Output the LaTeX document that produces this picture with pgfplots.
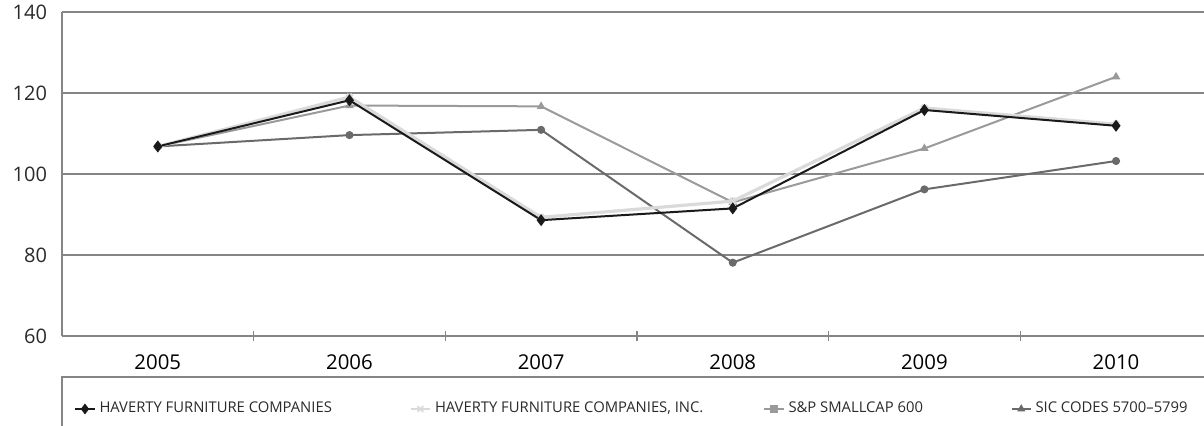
\documentclass[border=0pt]{standalone}
\usepackage{fontspec}
\setmainfont{Open Sans}
\usepackage{pgfplots}
\pgfplotsset{compat=1.18}
\usetikzlibrary{calc}
\definecolor{cblack}{HTML}{1A1A1A}
\definecolor{clight}{HTML}{DADADA}
\definecolor{cmid}{HTML}{9A9A9A}
\definecolor{cdark}{HTML}{6A6A6A}
\definecolor{caxis}{HTML}{858585}
\definecolor{ctext}{HTML}{2A2A2A}
\begin{document}
\begin{tikzpicture}
\begin{axis}[
  scale only axis,
  width=571pt, height=162pt,
  xmin=-0.5, xmax=5.459,
  ymin=60, ymax=140,
  ytick={60,80,100,120,140},
  xtick={0,1,2,3,4,5},
  xticklabels={2005,2006,2007,2008,2009,2010},
  minor xtick={0.5,1.5,2.5,3.5,4.5},
  major tick length=0pt,
  minor tick length=5pt,
  tick align=inside,
  xtick pos=bottom, ytick pos=left,
  ymajorgrids,
  major grid style={caxis, line width=0.6pt},
  minor tick style={caxis, line width=0.6pt},
  axis x line=bottom, axis y line=left,
  axis line style={-, caxis, line width=0.6pt},
  /pgf/number format/assume math mode=true,
  yticklabel style={font=\fontsize{10}{12}\selectfont, text=ctext, xshift=-4pt},
  xticklabel style={font=\fontsize{10.2}{12}\selectfont, text=black, yshift=-6pt},
  legend columns=4,
  legend style={at={(0,0)}, anchor=west, yshift=-36.5pt, xshift=3pt,
    draw=none, fill=none, font=\fontsize{7.4}{8}\selectfont, text=ctext,
    /tikz/column 2/.style={column sep=37pt},
    /tikz/column 4/.style={column sep=28pt},
    /tikz/column 6/.style={column sep=42pt}},
  legend image code/.code={\draw[mark repeat=2,mark phase=2] plot coordinates {(0cm,0cm) (0.17cm,0cm) (0.34cm,0cm)};},
]
\addlegendimage{cblack, line width=0.9pt, mark=diamond*, mark size=2pt, mark options={fill=cblack}}
\addlegendentry{HAVERTY FURNITURE COMPANIES}
\addlegendimage{clight, line width=0.9pt, mark=x, mark size=2pt}
\addlegendentry{HAVERTY FURNITURE COMPANIES, INC.}
\addlegendimage{cmid, line width=0.9pt, mark=square*, mark size=1.5pt, mark options={fill=cmid}}
\addlegendentry{S\&P SMALLCAP 600}
\addlegendimage{cdark, line width=0.6pt, mark=triangle*, mark size=1.8pt, mark options={fill=cdark}}
\addlegendentry{SIC CODES 5700--5799}

\addplot[forget plot, cdark, line width=1pt, mark=*, mark size=1.5pt, mark options={fill=cdark}]
  coordinates {(0,106.8) (1,109.6) (2,110.9) (3,78.1) (4,96.2) (5,103.2)};
\addplot[forget plot, cmid, line width=1pt, mark=triangle*, mark size=1.5pt, mark options={fill=cmid}]
  coordinates {(0,106.8) (1,116.9) (2,116.7) (3,93.0) (4,106.3) (5,124.0)};
\addplot[forget plot, clight, line width=1.6pt, mark=x, mark size=2pt]
  coordinates {(0,106.8) (1,119.0) (2,89.3) (3,93.3) (4,116.3) (5,112.3)};
\addplot[forget plot, cblack, line width=1pt, mark=diamond*, mark size=2.2pt, mark options={fill=cblack}]
  coordinates {(0,106.8) (1,118.2) (2,88.6) (3,91.5) (4,115.8) (5,111.9)};

\coordinate (BL) at (rel axis cs:0,0);
\coordinate (TR) at (rel axis cs:1,1);
\end{axis}
\draw[caxis, line width=0.6pt] ($(BL)+(0,-60pt)$) -- ($(BL)+(0,-20.5pt)$) -- ($(BL -| TR)+(5pt,-20.5pt)$);
\pgfresetboundingbox
\path ($(BL)+(-31pt,-45pt)$) rectangle ($(TR)+(0,6pt)$);
\end{tikzpicture}
\end{document}
